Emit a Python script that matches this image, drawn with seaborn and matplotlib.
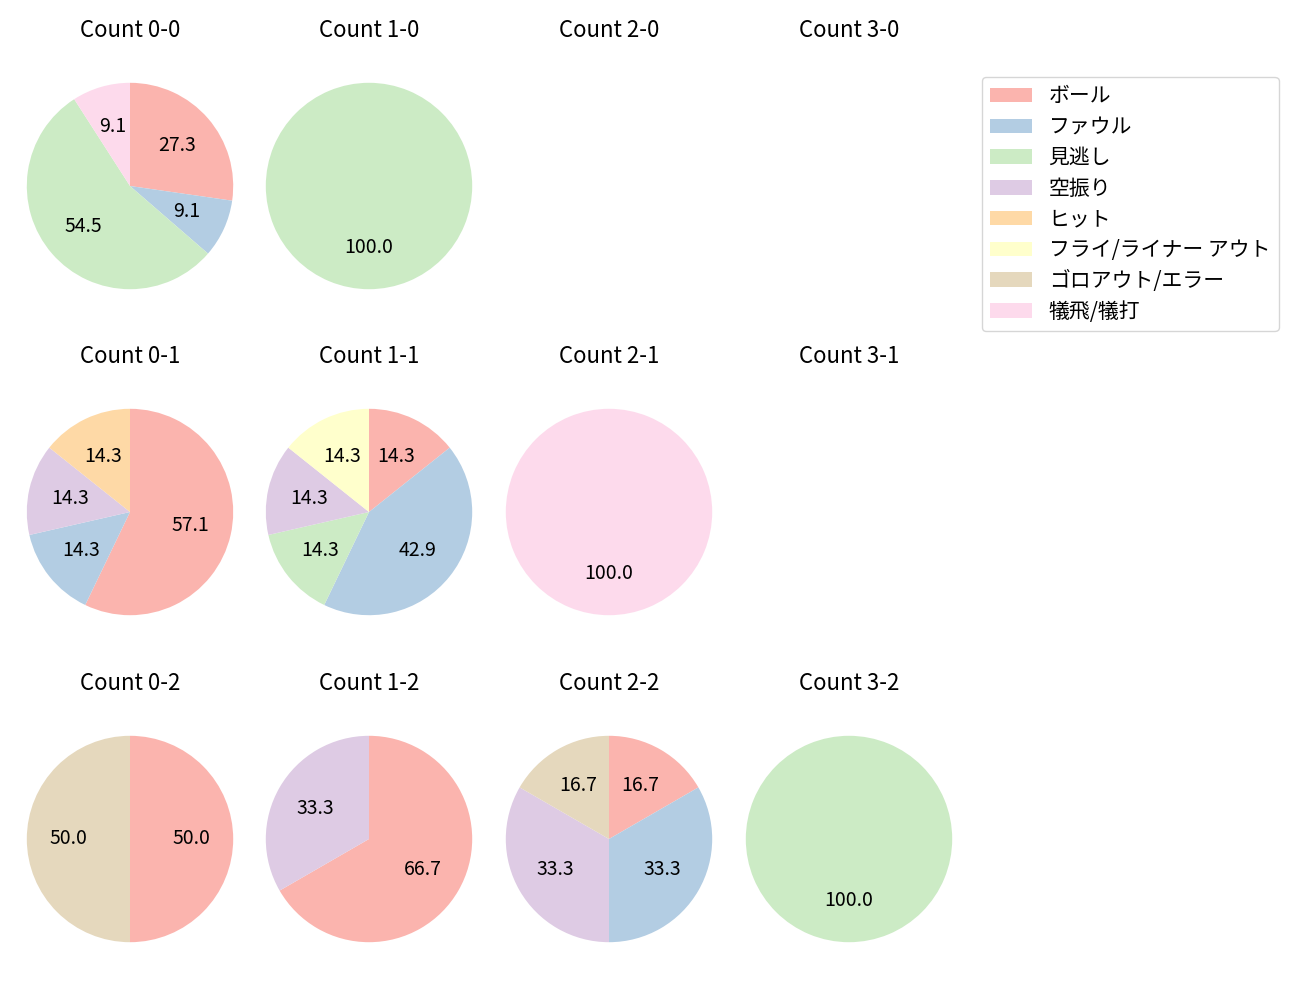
import matplotlib
matplotlib.use("Agg")
import matplotlib.pyplot as plt
from matplotlib.patches import Patch
import seaborn as sns

plt.rcParams['font.family'] = ['Noto Sans CJK JP', 'DejaVu Sans']

categories = ["ボール", "ファウル", "見逃し", "空振り", "ヒット",
              "フライ/ライナー アウト", "ゴロアウト/エラー", "犠飛/犠打"]

count_labels = [["0-0", "1-0", "2-0", "3-0"],
                ["0-1", "1-1", "2-1", "3-1"],
                ["0-2", "1-2", "2-2", "3-2"]]

# values per count, in category order
v_0_0 = [3, 1, 6, 0, 0, 0, 0, 1]
v_1_0 = [0, 0, 1, 0, 0, 0, 0, 0]
v_2_0 = [0, 0, 0, 0, 0, 0, 0, 0]
v_3_0 = [0, 0, 0, 0, 0, 0, 0, 0]
v_0_1 = [4, 1, 0, 1, 1, 0, 0, 0]
v_1_1 = [1, 3, 1, 1, 0, 1, 0, 0]
v_2_1 = [0, 0, 0, 0, 0, 0, 0, 1]
v_3_1 = [0, 0, 0, 0, 0, 0, 0, 0]
v_0_2 = [1, 0, 0, 0, 0, 0, 1, 0]
v_1_2 = [2, 0, 0, 1, 0, 0, 0, 0]
v_2_2 = [1, 2, 0, 2, 0, 0, 1, 0]
v_3_2 = [0, 0, 1, 0, 0, 0, 0, 0]

values = [[v_0_0, v_1_0, v_2_0, v_3_0],
          [v_0_1, v_1_1, v_2_1, v_3_1],
          [v_0_2, v_1_2, v_2_2, v_3_2]]

colors = sns.color_palette("Pastel1", 8)

W, H = 1300, 1000
fig = plt.figure(figsize=(13, 10), dpi=100)

cx = [130, 369, 609, 849]
cy = [186, 512, 839]
size = 258

for r in range(3):
    for c in range(4):
        ax = fig.add_axes([(cx[c] - size / 2) / W, 1 - (cy[r] + size / 2) / H,
                           size / W, size / H])
        vals = values[r][c]
        sel = [i for i, v in enumerate(vals) if v > 0]
        if sel:
            ax.pie([vals[i] for i in sel], colors=[colors[i] for i in sel],
                   autopct="%.1f", startangle=90, counterclock=False,
                   textprops={"fontsize": 14, "color": "black"})
        ax.set_xlim(-1.25, 1.25)
        ax.set_ylim(-1.25, 1.25)
        ax.axis("off")
        ax.set_title(f"Count {count_labels[r][c]}", fontsize=16, pad=14.5,
                     color="black")

handles = [Patch(facecolor=colors[i], label=categories[i]) for i in range(8)]
fig.legend(handles=handles, loc="upper left",
           bbox_to_anchor=(982 / W, 1 - 77 / H), fontsize=15,
           labelspacing=0.42,
           frameon=True, edgecolor="#cccccc", borderaxespad=0)

fig.savefig("out.png", dpi=100)
